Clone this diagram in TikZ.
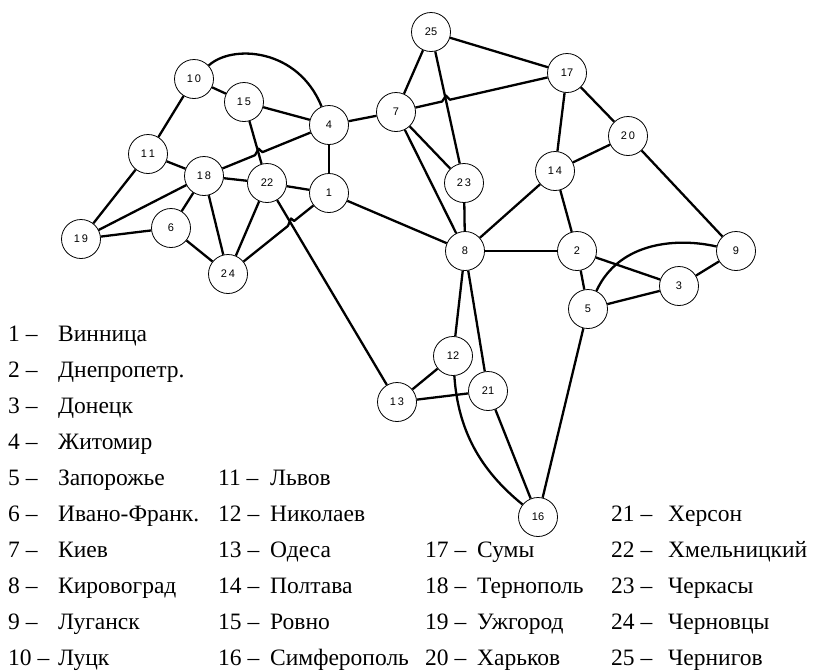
\documentclass[tikz,border=0pt]{standalone}
\usepackage{fontspec}
\setmainfont{Liberation Serif}
\newfontfamily\nodefont{Liberation Sans}
\usetikzlibrary{calc,intersections}
\begin{document}
\begin{tikzpicture}[x=1pt,y=-1pt,
  city/.style={circle,draw,line width=0.8pt,fill=white,minimum size=39pt,inner sep=0pt,
    font=\nodefont\fontsize{11}{11}\selectfont},
  road/.style={line width=2.3pt,line join=round},
  leg/.style={anchor=base west,inner sep=0pt,font=\fontsize{23.5}{24}\selectfont}]
\useasboundingbox (0,0) rectangle (813,670);
% nodes
\node[city] (n1)  at (329,193) {1};
\node[city] (n2)  at (577,251) {2};
\node[city] (n3)  at (679,286) {3};
\node[city] (n4)  at (329,125) {4};
\node[city] (n5)  at (588,309) {5};
\node[city] (n6)  at (171,228) {6};
\node[city] (n7)  at (396,112) {7};
\node[city] (n8)  at (465,251) {8};
\node[city] (n9)  at (736,251) {9};
\node[city] (n10) at (194,79)  {1\,0};
\node[city] (n11) at (148,154) {1\,1};
\node[city] (n12) at (453,356) {12};
\node[city] (n13) at (397,402) {1\,3};
\node[city] (n14) at (555,171) {1\,4};
\node[city] (n15) at (244,102) {1\,5};
\node[city] (n16) at (538,517) {16};
\node[city] (n17) at (567,73)  {17};
\node[city] (n18) at (204,176) {1\,8};
\node[city] (n19) at (81,239)  {1\,9};
\node[city] (n20) at (628,136) {2\,0};
\node[city] (n21) at (488,391) {21};
\node[city] (n22) at (267,183) {22};
\node[city] (n23) at (464,183) {2\,3};
\node[city] (n24) at (228,274) {2\,4};
\node[city] (n25) at (431,32)  {25};
% straight roads
\foreach \a/\b in {10/15,10/11,15/4,15/22,4/7,4/1,11/18,11/19,18/22,18/19,18/6,18/24,
  22/1,22/24,22/13,1/8,19/6,6/24,7/25,7/23,7/8,25/17,25/23,23/8,17/14,17/20,20/14,20/9,
  14/8,14/2,8/2,8/12,8/21,12/13,13/21,21/16,2/5,2/3,5/3,3/9,5/16}
  \draw[road] (n\a) -- (n\b);
% curved roads
\draw[road] (n10) .. controls (232,44) and (298,48) .. (n4);
\draw[road] (n5) .. controls (620,240) and (680,238) .. (n9);
\draw[road] (n12) .. controls (458,430) and (480,470) .. (n16);
% roads with hops
\path[name path=pa] (n15) -- (n22);
\path[name path=pb] (n4) -- (n18);
\path[name intersections={of=pa and pb,by=h1}];
\draw[road] (n4) -- ($(h1)!4pt!(n4)$) -- ($(h1)+(0,-5)$) -- ($(h1)!4pt!(n18)$) -- (n18);
\path[name path=pc] (n22) -- (n13);
\path[name path=pd] (n1) -- (n24);
\path[name intersections={of=pc and pd,by=h2}];
\draw[road] (n1) -- ($(h2)!4pt!(n1)$) -- ($(h2)+(0,-5)$) -- ($(h2)!4pt!(n24)$) -- (n24);
\path[name path=pe] (n25) -- (n23);
\path[name path=pf] (n7) -- (n17);
\path[name intersections={of=pe and pf,by=h3}];
\draw[road] (n7) -- ($(h3)!4pt!(n7)$) -- ($(h3)+(0,-5)$) -- ($(h3)!4pt!(n17)$) -- (n17);
% legend
\foreach \n/\name [count=\i] in {1/Винница,2/Днепропетр.,3/Донецк,4/Житомир,5/Запорожье,
  6/Ивано-Франк.,7/Киев,8/Кировоград,9/Луганск,10/Луцк}{
  \node[leg] (la\n) at (8,{341+36*(\i-1)}) {\n\ –};
  \node[leg] (lb\n) at (58,{341+36*(\i-1)}) {\name};}
\foreach \n/\name [count=\i from 5] in {11/Львов,12/Николаев,13/Одеса,14/Полтава,15/Ровно,16/Симферополь}{
  \node[leg] (la\n) at (218,{341+36*(\i-1)}) {\n\ –};
  \node[leg] (lb\n) at (270,{341+36*(\i-1)}) {\name};}
\foreach \n/\name [count=\i from 7] in {17/Сумы,18/Тернополь,19/Ужгород,20/Харьков}{
  \node[leg] (la\n) at (425,{341+36*(\i-1)}) {\n\ –};
  \node[leg] (lb\n) at (477,{341+36*(\i-1)}) {\name};}
\foreach \n/\name [count=\i from 6] in {21/Херсон,22/Хмельницкий,23/Черкасы,24/Черновцы,25/Чернигов}{
  \node[leg] (la\n) at (611,{341+36*(\i-1)}) {\n\ –};
  \node[leg] (lb\n) at (668,{341+36*(\i-1)}) {\name};}
\end{tikzpicture}
\end{document}
